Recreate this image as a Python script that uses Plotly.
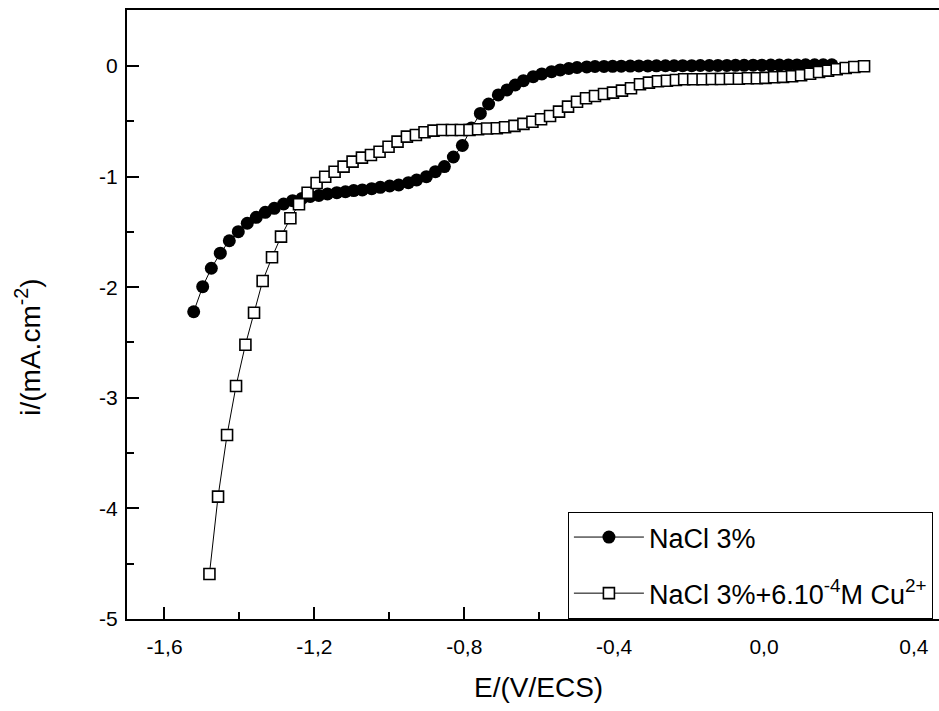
import plotly.graph_objects as go

# ---- data ----
E_nacl = [-1.522, -1.498, -1.475, -1.451, -1.427, -1.403, -1.379, -1.355, -1.331, -1.307,
          -1.282, -1.258, -1.233, -1.211, -1.188, -1.165, -1.140, -1.117, -1.095, -1.072,
          -1.047, -1.024, -0.999, -0.975, -0.949, -0.927, -0.901, -0.877, -0.853, -0.829,
          -0.805, -0.781, -0.757, -0.735, -0.709, -0.686, -0.664, -0.642, -0.616, -0.593,
          -0.567, -0.544, -0.521, -0.499, -0.473, -0.451, -0.427, -0.404, -0.381, -0.357,
          -0.334, -0.310, -0.287, -0.263, -0.240, -0.217, -0.193, -0.170, -0.146, -0.123,
          -0.099, -0.076, -0.053, -0.029, -0.006, 0.018, 0.041, 0.065, 0.088, 0.111,
          0.135, 0.158, 0.181]
i_nacl = [-2.222, -1.995, -1.829, -1.693, -1.580, -1.498, -1.422, -1.368, -1.323, -1.287,
          -1.248, -1.218, -1.198, -1.180, -1.171, -1.157, -1.146, -1.137, -1.127, -1.121,
          -1.109, -1.097, -1.085, -1.076, -1.055, -1.031, -1.001, -0.956, -0.910, -0.823,
          -0.719, -0.561, -0.429, -0.344, -0.262, -0.217, -0.172, -0.133, -0.097, -0.072,
          -0.052, -0.036, -0.023, -0.014, -0.009, -0.005, -0.004, -0.003, -0.002, -0.001,
          0.000, 0.000, 0.001, 0.002, 0.002, 0.003, 0.003, 0.004, 0.004, 0.005,
          0.005, 0.006, 0.006, 0.007, 0.007, 0.008, 0.008, 0.009, 0.009, 0.010,
          0.010, 0.011, 0.011]

E_cu = [-1.480, -1.457, -1.433, -1.409, -1.384, -1.361, -1.338, -1.313, -1.289, -1.264,
        -1.241, -1.218, -1.194, -1.171, -1.146, -1.122, -1.098, -1.073, -1.049, -1.026,
        -1.002, -0.978, -0.953, -0.929, -0.906, -0.882, -0.858, -0.833, -0.809, -0.786,
        -0.763, -0.739, -0.713, -0.691, -0.666, -0.642, -0.618, -0.595, -0.571, -0.547,
        -0.523, -0.499, -0.475, -0.451, -0.427, -0.403, -0.379, -0.355, -0.331, -0.307,
        -0.283, -0.259, -0.235, -0.213, -0.189, -0.164, -0.139, -0.115, -0.091, -0.067,
        -0.043, -0.019, 0.004, 0.027, 0.051, 0.075, 0.099, 0.123, 0.147, 0.171,
        0.194, 0.218, 0.241, 0.267]
i_cu = [-4.593, -3.894, -3.336, -2.893, -2.520, -2.231, -1.944, -1.730, -1.543, -1.377,
        -1.250, -1.146, -1.058, -1.001, -0.956, -0.910, -0.865, -0.829, -0.805, -0.775,
        -0.730, -0.684, -0.639, -0.624, -0.599, -0.585, -0.579, -0.579, -0.579, -0.579,
        -0.572, -0.565, -0.563, -0.554, -0.542, -0.524, -0.504, -0.482, -0.452, -0.413,
        -0.368, -0.323, -0.292, -0.271, -0.253, -0.241, -0.223, -0.202, -0.165, -0.151,
        -0.138, -0.133, -0.127, -0.120, -0.120, -0.120, -0.118, -0.118, -0.115, -0.115,
        -0.111, -0.111, -0.108, -0.102, -0.099, -0.093, -0.084, -0.070, -0.054, -0.042,
        -0.030, -0.018, -0.009, -0.003]

name_nacl = "NaCl 3%"
name_cu = "NaCl 3%+6.10<sup>-4</sup>M Cu<sup>2+</sup>"

x_tickvals = [-1.6, -1.2, -0.8, -0.4, 0.0, 0.4]
x_ticktext = ["-1,6", "-1,2", "-0,8", "-0,4", "0,0", "0,4"]
y_tickvals = [0, -1, -2, -3, -4, -5]
y_ticktext = ["0", "-1", "-2", "-3", "-4", "-5"]

FONT = "Liberation Sans, Arial, sans-serif"

fig = go.Figure()
fig.add_trace(go.Scatter(
    x=E_nacl, y=i_nacl, name=name_nacl, mode="lines+markers", legendgroup="a",
    line=dict(color="black", width=1),
    marker=dict(symbol="circle", size=13, color="black", line=dict(width=0)),
))
fig.add_trace(go.Scatter(
    x=E_cu, y=i_cu, name=name_cu, mode="lines+markers", legendgroup="b",
    line=dict(color="black", width=1),
    marker=dict(symbol="square", size=11, color="white", line=dict(color="black", width=1.6)),
))

fig.update_layout(
    width=939, height=711,
    margin=dict(l=127, r=0, t=10, b=92),
    paper_bgcolor="white", plot_bgcolor="white",
    font=dict(family=FONT, color="black", size=21),
    showlegend=True,
    legend=dict(x=0.543, y=0, xanchor="left", yanchor="bottom",
                bordercolor="black", borderwidth=1, bgcolor="white",
                font=dict(size=27, family=FONT), itemwidth=70,
                tracegroupgap=18, traceorder="grouped"),
    xaxis=dict(range=[-1.7, 0.467], showgrid=False, zeroline=False,
               showline=True, linecolor="black", linewidth=2, mirror=True,
               tickmode="array", tickvals=x_tickvals, ticktext=x_ticktext,
               ticks="inside", ticklen=12, tickwidth=2, tickcolor="black",
               minor=dict(tickmode="linear", tick0=-1.6, dtick=0.2, ticks="inside",
                          ticklen=7, tickwidth=2, tickcolor="black"),
               tickfont=dict(size=21, family=FONT), ticklabelstandoff=8),
    yaxis=dict(range=[-5, 0.506], showgrid=False, zeroline=False,
               showline=True, linecolor="black", linewidth=2, mirror=False,
               tickmode="array", tickvals=y_tickvals, ticktext=y_ticktext,
               ticks="inside", ticklen=12, tickwidth=2, tickcolor="black",
               minor=dict(tickmode="linear", tick0=0, dtick=0.5, ticks="inside",
                          ticklen=7, tickwidth=2, tickcolor="black"),
               tickfont=dict(size=21, family=FONT), ticklabelstandoff=3),
    annotations=[
        dict(text="E/(V/ECS)", xref="paper", yref="paper", x=0.507, y=-0.113,
             xanchor="center", yanchor="middle", showarrow=False,
             font=dict(size=28, family=FONT)),
        dict(text="i/(mA.cm<sup>-2</sup>)", xref="paper", yref="paper", x=-0.122, y=0.447,
             xanchor="center", yanchor="middle", showarrow=False, textangle=-90,
             font=dict(size=28, family=FONT)),
    ],
)

fig.write_html("out.html")
